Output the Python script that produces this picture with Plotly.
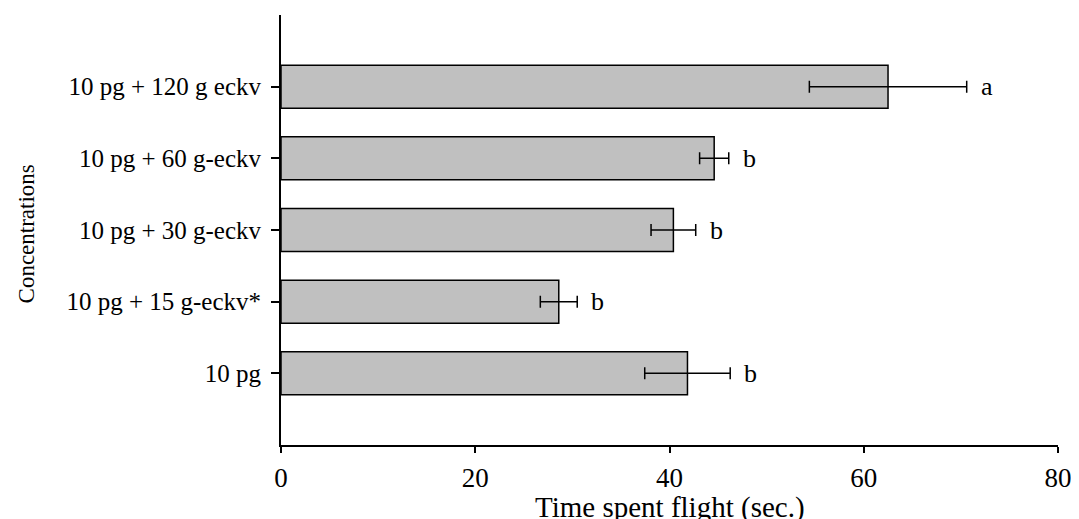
import plotly.graph_objects as go

categories = ["10 pg", "10 pg + 15 g-eckv*", "10 pg + 30 g-eckv", "10 pg + 60 g-eckv", "10 pg + 120 g eckv"]
means = [41.85, 28.6, 40.4, 44.6, 62.5]
errors = [4.4, 1.9, 2.3, 1.5, 8.1]
letters = ["b", "b", "b", "b", "a"]
x_ticks = [0, 20, 40, 60, 80]

FONT = "Liberation Serif, Times New Roman, serif"

fig = go.Figure()
fig.add_trace(go.Bar(
    y=categories, x=means, orientation="h",
    width=0.6,
    marker=dict(color="#c0c0c0", line=dict(color="black", width=1.5)),
    error_x=dict(type="data", array=errors, color="black", thickness=1.5, width=6),
    showlegend=False,
))

for c, m, e, t in zip(categories, means, errors, letters):
    fig.add_annotation(x=m + e, y=c, text=t, showarrow=False, xanchor="left", xshift=12,
                       font=dict(family=FONT, size=26, color="black"))

fig.add_annotation(xref="paper", yref="paper", x=0.5, y=-0.188, xanchor="center", yanchor="bottom",
                   text="Time spent flight (sec.)", showarrow=False,
                   font=dict(family=FONT, size=29, color="black"))
fig.add_annotation(xref="paper", yref="paper", x=-0.328, y=0.49, textangle=-90,
                   xanchor="center", yanchor="middle",
                   text="Concentrations", showarrow=False,
                   font=dict(family=FONT, size=23, color="black"))

fig.update_layout(
    width=1071, height=511,
    margin=dict(l=273, r=18, t=7, b=74),
    plot_bgcolor="white", paper_bgcolor="white",
    font=dict(family=FONT, color="black"),
    bargap=0.4,
)
fig.update_xaxes(range=[0, 80], tickvals=x_ticks, ticks="outside", ticklen=6, tickwidth=1.5,
                 tickcolor="black", showline=True, linecolor="black", linewidth=1.5,
                 showgrid=False, zeroline=False, tickfont=dict(family=FONT, size=27),
                 ticklabelstandoff=2)
fig.update_yaxes(type="category", categoryorder="array", categoryarray=categories,
                 range=[-1, 5], ticks="outside", ticklen=8, tickwidth=1.5, tickcolor="black",
                 showline=True, linecolor="black", linewidth=2, showgrid=False, zeroline=False,
                 tickfont=dict(family=FONT, size=25), ticklabelstandoff=5)

fig.write_html("out.html")
